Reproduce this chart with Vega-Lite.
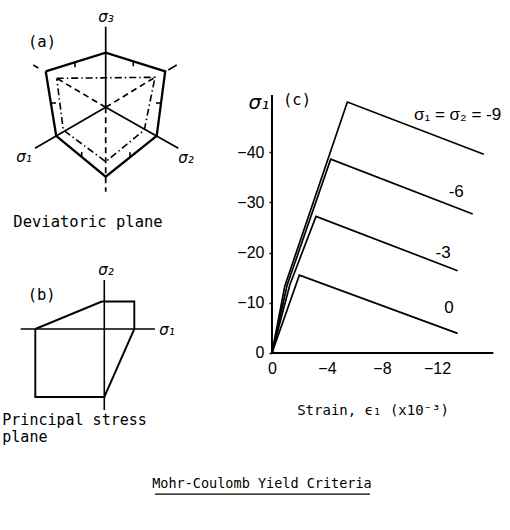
{
  "$schema": "https://vega.github.io/schema/vega-lite/v6.json",
  "width": 510,
  "height": 530,
  "autosize": "none",
  "padding": 0,
  "background": "white",
  "config": {"view": {"stroke": null}},
  "datasets": {
    "devOuter": [
      {"x": -6.0, "y": 3.6, "seq": 0},
      {"x": 0, "y": 5.46, "seq": 1},
      {"x": 5.95, "y": 3.6, "seq": 2},
      {"x": 5.1, "y": -2.85, "seq": 3},
      {"x": 0, "y": -6.94, "seq": 4},
      {"x": -4.95, "y": -2.85, "seq": 5},
      {"x": -6.0, "y": 3.6, "seq": 6}
    ],
    "devInner": [
      {"x": -4.9, "y": 2.9, "seq": 0},
      {"x": 4.93, "y": 3.0, "seq": 1},
      {"x": 3.86, "y": -2.27, "seq": 2},
      {"x": 0, "y": -5.44, "seq": 3},
      {"x": -4.24, "y": -2.27, "seq": 4},
      {"x": -4.9, "y": 2.9, "seq": 5}
    ],
    "devAxes": [
      {"x": 0, "y": 0, "x2": 0, "y2": 8.06},
      {"x": 0, "y": 0, "x2": -7.07, "y2": -4.1},
      {"x": 0, "y": 0, "x2": 7.26, "y2": -4.1}
    ],
    "devDashed": [
      {"x": 0, "y": 0, "x2": -4.9, "y2": 2.9},
      {"x": 0, "y": 0, "x2": 4.93, "y2": 3.0},
      {"x": 0, "y": 0, "x2": 0, "y2": -8.44}
    ],
    "devTicks": [
      {"x": -7.24, "y": 4.23, "x2": -6.74, "y2": 3.93},
      {"x": 6.26, "y": 3.73, "x2": 7.1, "y2": 4.23},
      {"x": -3.07, "y": 4.51, "x2": -3.07, "y2": 4.01},
      {"x": 2.76, "y": 4.6, "x2": 2.76, "y2": 4.1},
      {"x": -5.48, "y": 0.43, "x2": -4.98, "y2": 0.43},
      {"x": 5.53, "y": 0.43, "x2": 5.03, "y2": 0.43},
      {"x": -2.4, "y": -4.96, "x2": -2.4, "y2": -4.46},
      {"x": 2.43, "y": -4.99, "x2": 2.43, "y2": -4.49}
    ],
    "devSymbols": [
      {"x": 0.03, "y": 9.03, "label": "σ₃"},
      {"x": -8.17, "y": -4.97, "label": "σ₁"},
      {"x": 8.03, "y": -5.07, "label": "σ₂"}
    ],
    "devNotes": [
      {"x": -6.37, "y": 6.53, "label": "(a)"},
      {"x": -1.77, "y": -11.47, "label": "Deviatoric plane"}
    ],
    "psOutline": [
      {"x": -6.9, "y": 0, "seq": 0},
      {"x": -0.25, "y": 2.75, "seq": 1},
      {"x": 3.0, "y": 2.75, "seq": 2},
      {"x": 3.0, "y": 0, "seq": 3},
      {"x": 0, "y": -6.8, "seq": 4},
      {"x": -6.9, "y": -6.8, "seq": 5},
      {"x": -6.9, "y": 0, "seq": 6}
    ],
    "psAxes": [
      {"x": -8.36, "y": 0, "x2": 5.07, "y2": 0},
      {"x": 0, "y": 4.9, "x2": 0, "y2": -8.1}
    ],
    "psSymbols": [
      {"x": 0.17, "y": 5.9, "label": "σ₂"},
      {"x": 6.27, "y": -0.1, "label": "σ₁"}
    ],
    "psNotes": [
      {"x": -6.26, "y": 3.4, "label": "(b)"}
    ],
    "psCaption": [
      {"x": -10.2, "y": -9.1, "label": "Principal stress\nplane"}
    ],
    "curves": [
      {"strain": 0, "stress": 0, "confining": "-9", "seq": 0},
      {"strain": -0.93, "stress": -13.3, "confining": "-9", "seq": 1},
      {"strain": -5.48, "stress": -50.0, "confining": "-9", "seq": 2},
      {"strain": -15.4, "stress": -39.6, "confining": "-9", "seq": 3},
      {"strain": 0, "stress": 0, "confining": "-6", "seq": 0},
      {"strain": -1.1, "stress": -13.5, "confining": "-6", "seq": 1},
      {"strain": -4.27, "stress": -38.6, "confining": "-6", "seq": 2},
      {"strain": -14.6, "stress": -27.7, "confining": "-6", "seq": 3},
      {"strain": 0, "stress": 0, "confining": "-3", "seq": 0},
      {"strain": -1.3, "stress": -13.6, "confining": "-3", "seq": 1},
      {"strain": -3.2, "stress": -27.2, "confining": "-3", "seq": 2},
      {"strain": -13.5, "stress": -16.4, "confining": "-3", "seq": 3},
      {"strain": 0, "stress": 0, "confining": "0", "seq": 0},
      {"strain": -1.99, "stress": -15.5, "confining": "0", "seq": 1},
      {"strain": -13.5, "stress": -3.9, "confining": "0", "seq": 2}
    ],
    "frame": [
      {"strain": 0, "stress": 0, "strain2": -16.1, "stress2": 0},
      {"strain": 0, "stress": 0, "strain2": 0, "stress2": -51.4}
    ],
    "curveLabels": [
      {"strain": -13.5, "stress": -47.4, "label": "σ₁ = σ₂ = -9"},
      {"strain": -13.4, "stress": -32.1, "label": "-6"},
      {"strain": -12.44, "stress": -19.9, "label": "-3"},
      {"strain": -12.87, "stress": -8.96, "label": "0"}
    ],
    "stressTitle": [
      {"strain": 0.95, "stress": -49.8, "label": "σ₁"}
    ],
    "panelTag": [
      {"strain": -1.82, "stress": -50.4, "label": "(c)"}
    ],
    "strainTitle": [
      {"strain": -7.35, "stress": 11.55, "label": "Strain, ϵ₁ (x10⁻³)"}
    ],
    "caption": [
      {"strain": 0.73, "stress": 26.1, "label": "Mohr-Coulomb Yield Criteria"}
    ],
    "captionRule": [
      {"strain": 8.51, "stress": 28.1, "strain2": -7.13, "stress2": 28.1}
    ]
  },
  "resolve": {"scale": {"x": "independent", "y": "independent"}},
  "layer": [
    {
      "encoding": {
        "x": {"field": "x", "type": "quantitative", "axis": null,
              "scale": {"domain": [-10.57, 40.43], "nice": false, "zero": false}},
        "y": {"field": "y", "type": "quantitative", "axis": null,
              "scale": {"domain": [-42.27, 10.73], "nice": false, "zero": false}}
      },
      "layer": [
        {
          "data": {"name": "devOuter"},
          "mark": {"type": "line", "stroke": "black", "strokeWidth": 2.3, "strokeJoin": "miter"},
          "encoding": {"order": {"field": "seq", "type": "quantitative"}}
        },
        {
          "data": {"name": "devInner"},
          "mark": {"type": "line", "stroke": "black", "strokeWidth": 1.6, "strokeDash": [7, 3, 1.5, 3]},
          "encoding": {"order": {"field": "seq", "type": "quantitative"}}
        },
        {
          "data": {"name": "devAxes"},
          "mark": {"type": "rule", "stroke": "black", "strokeWidth": 1.7},
          "encoding": {"x2": {"field": "x2"}, "y2": {"field": "y2"}}
        },
        {
          "data": {"name": "devDashed"},
          "mark": {"type": "rule", "stroke": "black", "strokeWidth": 1.7, "strokeDash": [6, 4]},
          "encoding": {"x2": {"field": "x2"}, "y2": {"field": "y2"}}
        },
        {
          "data": {"name": "devTicks"},
          "mark": {"type": "rule", "stroke": "black", "strokeWidth": 1.6},
          "encoding": {"x2": {"field": "x2"}, "y2": {"field": "y2"}}
        },
        {
          "data": {"name": "devSymbols"},
          "mark": {"type": "text", "font": "DejaVu Sans", "fontSize": 15, "fontStyle": "italic", "color": "black"},
          "encoding": {"text": {"field": "label"}}
        },
        {
          "data": {"name": "devNotes"},
          "mark": {"type": "text", "font": "DejaVu Sans Mono", "fontSize": 15.5, "color": "black"},
          "encoding": {"text": {"field": "label"}}
        }
      ]
    },
    {
      "encoding": {
        "x": {"field": "x", "type": "quantitative", "axis": null,
              "scale": {"domain": [-10.43, 40.57], "nice": false, "zero": false}},
        "y": {"field": "y", "type": "quantitative", "axis": null,
              "scale": {"domain": [-20.1, 32.9], "nice": false, "zero": false}}
      },
      "layer": [
        {
          "data": {"name": "psOutline"},
          "mark": {"type": "line", "stroke": "black", "strokeWidth": 1.9, "strokeJoin": "miter"},
          "encoding": {"order": {"field": "seq", "type": "quantitative"}}
        },
        {
          "data": {"name": "psAxes"},
          "mark": {"type": "rule", "stroke": "black", "strokeWidth": 1.6},
          "encoding": {"x2": {"field": "x2"}, "y2": {"field": "y2"}}
        },
        {
          "data": {"name": "psSymbols"},
          "mark": {"type": "text", "font": "DejaVu Sans", "fontSize": 15, "fontStyle": "italic", "color": "black"},
          "encoding": {"text": {"field": "label"}}
        },
        {
          "data": {"name": "psNotes"},
          "mark": {"type": "text", "font": "DejaVu Sans Mono", "fontSize": 15.5, "color": "black"},
          "encoding": {"text": {"field": "label"}}
        },
        {
          "data": {"name": "psCaption"},
          "mark": {"type": "text", "font": "DejaVu Sans Mono", "fontSize": 15, "align": "left", "baseline": "middle",
                   "lineBreak": "\n", "lineHeight": 17, "color": "black"},
          "encoding": {"text": {"field": "label"}}
        }
      ]
    },
    {
      "encoding": {
        "x": {"field": "strain", "type": "quantitative",
              "scale": {"domain": [-17.31, 19.78], "reverse": true, "nice": false, "zero": false},
              "axis": {"orient": "bottom", "offset": -177, "values": [0, -4, -8, -12], "title": null,
                       "domain": false, "grid": false, "ticks": false, "tickSize": 0, "labelPadding": 7,
                       "labelFont": "Liberation Sans", "labelFontSize": 16, "labelColor": "black"}},
        "y": {"field": "stress", "type": "quantitative",
              "scale": {"domain": [-70.32, 35.26], "reverse": true, "nice": false, "zero": false},
              "axis": {"orient": "left", "offset": -272, "values": [0, -10, -20, -30, -40], "title": null,
                       "domain": false, "grid": false, "ticks": true, "tickSize": 3, "tickWidth": 1.5,
                       "tickColor": "black", "labelPadding": 5,
                       "labelFont": "Liberation Sans", "labelFontSize": 16, "labelColor": "black"}}
      },
      "layer": [
        {
          "data": {"name": "frame"},
          "mark": {"type": "rule", "stroke": "black", "strokeWidth": 2},
          "encoding": {"x2": {"field": "strain2"}, "y2": {"field": "stress2"}}
        },
        {
          "data": {"name": "curves"},
          "mark": {"type": "line", "stroke": "black", "strokeWidth": 1.7, "strokeJoin": "miter"},
          "encoding": {
            "detail": {"field": "confining", "type": "nominal"},
            "order": {"field": "seq", "type": "quantitative"}
          }
        },
        {
          "data": {"name": "curveLabels"},
          "mark": {"type": "text", "font": "Liberation Sans", "fontSize": 17, "color": "black"},
          "encoding": {"text": {"field": "label"}}
        },
        {
          "data": {"name": "stressTitle"},
          "mark": {"type": "text", "font": "DejaVu Sans", "fontSize": 20, "fontStyle": "italic", "color": "black"},
          "encoding": {"text": {"field": "label"}}
        },
        {
          "data": {"name": "panelTag"},
          "mark": {"type": "text", "font": "DejaVu Sans Mono", "fontSize": 15.5, "color": "black"},
          "encoding": {"text": {"field": "label"}}
        },
        {
          "data": {"name": "strainTitle"},
          "mark": {"type": "text", "font": "DejaVu Sans Mono", "fontSize": 14, "color": "black"},
          "encoding": {"text": {"field": "label"}}
        },
        {
          "data": {"name": "caption"},
          "mark": {"type": "text", "font": "DejaVu Sans Mono", "fontSize": 13.5, "color": "black"},
          "encoding": {"text": {"field": "label"}}
        },
        {
          "data": {"name": "captionRule"},
          "mark": {"type": "rule", "stroke": "black", "strokeWidth": 1.2},
          "encoding": {"x2": {"field": "strain2"}, "y2": {"field": "stress2"}}
        }
      ]
    }
  ]
}
